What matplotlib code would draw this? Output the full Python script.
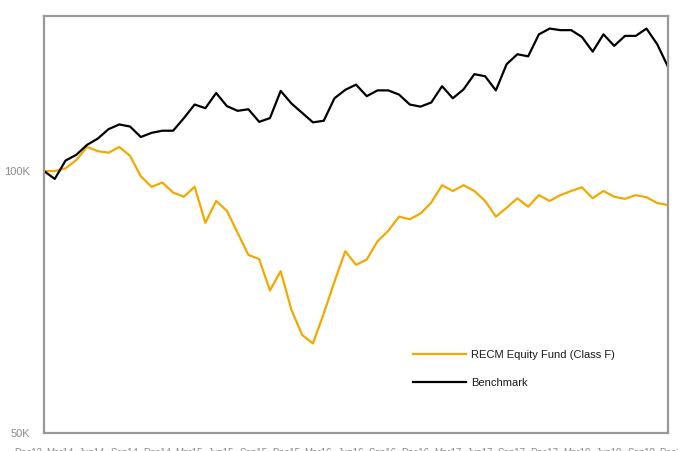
import matplotlib
matplotlib.use("Agg")
import matplotlib.pyplot as plt
import matplotlib.transforms as mtransforms
import numpy as np

plt.rcParams['font.family'] = ['Liberation Sans', 'DejaVu Sans']

fund = [100.0, 100.0, 100.5, 102.1, 104.6, 103.8, 103.5, 104.6, 102.9, 99.0,
        97.0, 97.8, 95.9, 95.1, 97.0, 90.1, 94.3, 92.4, 88.2, 84.0,
        83.2, 77.2, 80.9, 73.5, 68.7, 67.1, 72.8, 78.9, 84.7, 82.1,
        83.1, 86.6, 88.6, 91.3, 90.8, 91.9, 94.0, 97.3, 96.2, 97.3,
        96.2, 94.3, 91.3, 93.0, 94.8, 93.2, 95.4, 94.3, 95.4, 96.2,
        96.9, 94.8, 96.2, 95.1, 94.7, 95.4, 95.0, 93.9, 93.5]
benchmark = [100.0, 98.5, 102.0, 103.1, 105.0, 106.2, 108.0, 108.9, 108.5, 106.5,
             107.3, 107.7, 107.7, 110.1, 112.7, 112.0, 114.9, 112.4, 111.5, 111.8,
             109.4, 110.1, 115.3, 112.9, 111.1, 109.3, 109.6, 113.9, 115.5, 116.5,
             114.3, 115.4, 115.4, 114.6, 112.7, 112.3, 113.1, 116.2, 113.9, 115.6,
             118.5, 118.1, 115.4, 120.4, 122.3, 121.9, 126.1, 127.2, 126.9, 126.9,
             125.6, 122.8, 126.1, 123.9, 125.8, 125.8, 127.2, 124.2, 119.9]
series_names = ["RECM Equity Fund (Class F)", "Benchmark"]
ytick_values = [50, 100]
ytick_labels = ["50K", "100K"]
xtick_labels = ["Dec13", "Mar14", "Jun14", "Sep14", "Dec14", "Mar15", "Jun15",
                "Sep15", "Dec15", "Mar16", "Jun16", "Sep16", "Dec16", "Mar17",
                "Jun17", "Sep17", "Dec17", "Mar18", "Jun18", "Sep18", "Dec18"]

fig = plt.figure(figsize=(6.78, 4.51), dpi=100)
ax = fig.add_axes([44/678, 1-433/451, (668-44)/678, (433-16)/451])

x = np.arange(len(fund))
ax.plot(x, fund, color="#F2A900", lw=1.6, label=series_names[0])
ax.plot(x, benchmark, color="black", lw=1.6, label=series_names[1])

ax.set_xlim(0, len(fund) - 1)
ax.set_ylim(50, 129.6)
ax.set_yticks(ytick_values)
ax.set_yticklabels(ytick_labels)
ax.tick_params(axis='y', length=0, pad=10, labelsize=8, labelcolor="#8a8a8a")
ax.set_xticks([])

for s in ax.spines.values():
    s.set_color("#999999")
    s.set_linewidth(1.6)

trans = mtransforms.blended_transform_factory(ax.transData, ax.transAxes)
for k, lab in enumerate(xtick_labels):
    ax.text(k * 3 - 1.5, -0.036, lab, transform=trans, ha='center', va='top',
            fontsize=7, color="#8a8a8a", clip_on=False)

leg = ax.legend(loc='upper left', bbox_to_anchor=(413/678, 1-350/451),
                bbox_transform=fig.transFigure, frameon=False, fontsize=8,
                handlelength=4.8, handletextpad=0.45, labelspacing=1.6,
                borderpad=0, borderaxespad=0)
for t in leg.get_texts():
    t.set_color("#1a1a1a")

fig.savefig("out.png", dpi=100)
